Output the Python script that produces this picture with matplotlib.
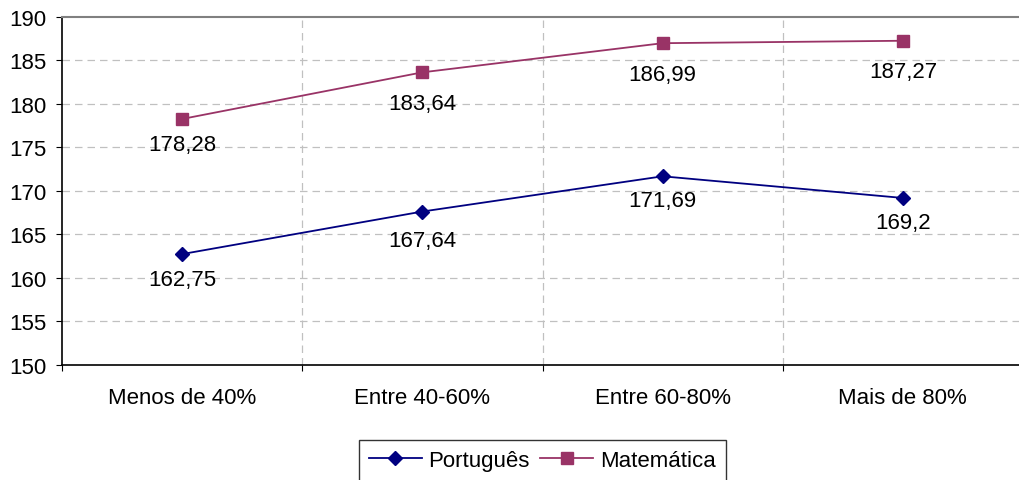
import matplotlib

matplotlib.use("Agg")
import matplotlib.pyplot as plt

plt.rcParams["font.family"] = ["Liberation Sans", "DejaVu Sans"]

categories = ["Menos de 40%", "Entre 40-60%", "Entre 60-80%", "Mais de 80%"]
portugues = [162.75, 167.64, 171.69, 169.2]
matematica = [178.28, 183.64, 186.99, 187.27]
port_labels = ["162,75", "167,64", "171,69", "169,2"]
mat_labels = ["178,28", "183,64", "186,99", "187,27"]
yticks = [150, 155, 160, 165, 170, 175, 180, 185, 190]

FS = 16

fig = plt.figure(figsize=(10.19, 4.81), dpi=100)
ax = fig.add_axes([62 / 1019, 1 - 366 / 481, 961 / 1019, 348 / 481])

x = range(len(categories))
ax.plot(x, portugues, color="#000080", marker="D", markersize=7.5, lw=1.3,
        label="Português")
ax.plot(x, matematica, color="#993366", marker="s", markersize=8.5, lw=1.3,
        label="Matemática")

# label drop below each marker, in points (excel places them unevenly)
port_drop = [11, 13, 10, 10]
mat_drop = [11, 15, 15, 14.5]
for i, (v, t) in enumerate(zip(portugues, port_labels)):
    ax.annotate(t, (i, v), xytext=(0, -port_drop[i]), textcoords="offset points",
                ha="center", va="top", fontsize=FS)
for i, (v, t) in enumerate(zip(matematica, mat_labels)):
    ax.annotate(t, (i, v), xytext=(0, -mat_drop[i]), textcoords="offset points",
                ha="center", va="top", fontsize=FS)

ax.set_xlim(-0.5, len(categories) - 0.5)
ax.set_ylim(150, 190)
ax.set_yticks(yticks)
ax.tick_params(axis="y", labelsize=FS, length=4.5, direction="out", pad=7)

# category boundaries carry the ticks and the vertical grid
ax.set_xticks([i - 0.5 for i in range(len(categories) + 1)])
ax.set_xticklabels([])
ax.set_xticks(list(x), minor=True)
ax.set_xticklabels(categories, minor=True, fontsize=FS)
ax.tick_params(axis="x", which="major", length=4.5, direction="out")
ax.tick_params(axis="x", which="minor", length=0, pad=15.5)

for yv in yticks[1:-1]:
    ax.axhline(yv, color="#c0c0c0", lw=0.9, ls=(0, (6, 4)), zorder=0)
for xv in [0.5, 1.5, 2.5]:
    ax.axvline(xv, color="#c0c0c0", lw=0.9, ls=(0, (6, 4)), zorder=0)

ax.spines["top"].set_color("#808080")
ax.spines["top"].set_linewidth(1.5)
ax.spines["right"].set_visible(False)
ax.spines["left"].set_linewidth(1.2)
ax.spines["bottom"].set_linewidth(1.2)

leg = fig.legend(loc="upper center", bbox_to_anchor=(0.532, 1 - 441 / 481),
                 ncol=2, fontsize=FS, frameon=True, fancybox=False,
                 edgecolor="black", handlelength=2.4, columnspacing=0.45,
                 handletextpad=0.3, borderpad=0.45, borderaxespad=0)
leg.get_frame().set_linewidth(1.0)

fig.savefig("out.png", dpi=100)
